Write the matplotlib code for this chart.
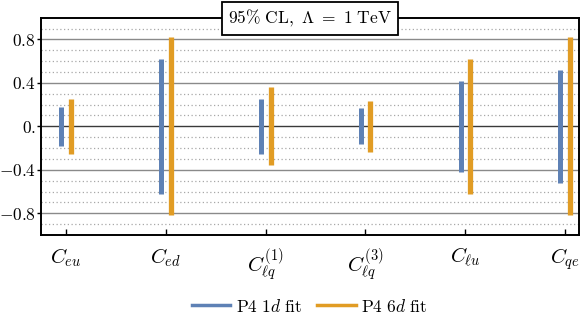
import numpy as np
import matplotlib
matplotlib.use("Agg")
import matplotlib.pyplot as plt
from matplotlib.lines import Line2D

plt.rcParams["mathtext.fontset"] = "cm"
plt.rcParams["font.family"] = ["cmr10", "DejaVu Serif"]

# --- data ---
categories = [r"$C_{eu}$", r"$C_{ed}$", r"$C_{\ell q}^{(1)}$",
              r"$C_{\ell q}^{(3)}$", r"$C_{\ell u}$", r"$C_{qe}$"]
fit1d_lo = [-0.18, -0.62, -0.25, -0.165, -0.42, -0.52]
fit1d_hi = [0.18, 0.62, 0.25, 0.165, 0.42, 0.52]
fit6d_lo = [-0.25, -0.82, -0.36, -0.235, -0.62, -0.82]
fit6d_hi = [0.25, 0.82, 0.36, 0.235, 0.62, 0.82]

ytick_vals = [-0.8, -0.4, 0.0, 0.4, 0.8]
ytick_labels = [r"$-0.8$", r"$-0.4$", r"$0.$", r"$0.4$", r"$0.8$"]

blue = "#5E81B5"
orange = "#E19C24"

fig = plt.figure(figsize=(5.81, 3.14), dpi=100)
ax = fig.add_axes([41 / 581, 0.2516, 538 / 581, 0.692])

x = np.arange(len(categories))

# grid
minor = [v / 10 for v in range(-9, 10) if v % 4 != 0]
for m in minor:
    ax.axhline(m, color="#a8a8a8", lw=0.9, ls=(0, (1, 2)), zorder=0)
for v in ytick_vals:
    if v == 0:
        ax.axhline(v, color="#3a3a3a", lw=1.0, zorder=0)
    else:
        ax.axhline(v, color="#8a8a8a", lw=1.0, zorder=0)

ax.vlines(x - 0.047, fit1d_lo, fit1d_hi, color=blue, lw=3.6, zorder=3)
ax.vlines(x + 0.05, fit6d_lo, fit6d_hi, color=orange, lw=3.8, zorder=3)

ax.set_xlim(-0.25, 5.14)
ax.set_ylim(-1.0, 1.0)

ax.set_xticks(x)
ax.set_xticklabels(categories, fontsize=15)
ax.set_yticks(ytick_vals)
ax.set_yticklabels(ytick_labels, fontsize=12.5)

ax.tick_params(axis="x", direction="in", length=4, width=1, pad=8)
ax.tick_params(axis="y", direction="out", length=3, width=1, pad=0.8)

for s in ax.spines.values():
    s.set_linewidth(1.4)

fig.text(0.533, 1 - 18.5 / 314, r"$95\%\ \mathrm{CL},\ \Lambda\ =\ 1\ \mathrm{TeV}$",
         ha="center", va="center", fontsize=12.5,
         bbox=dict(boxstyle="square,pad=0.35", fc="white", ec="black", lw=1.3))

handles = [Line2D([], [], color=blue, lw=2.5),
           Line2D([], [], color=orange, lw=2.5)]
fig.legend(handles, [r"$\mathrm{P4}\ 1d\ \mathrm{fit}$", r"$\mathrm{P4}\ 6d\ \mathrm{fit}$"],
           loc="center", bbox_to_anchor=(0.533, 1 - 306 / 314), ncol=2,
           frameon=False, fontsize=12.5, handlelength=2.2, handletextpad=0.3,
           columnspacing=0.9)

fig.savefig("out.png", dpi=100)
